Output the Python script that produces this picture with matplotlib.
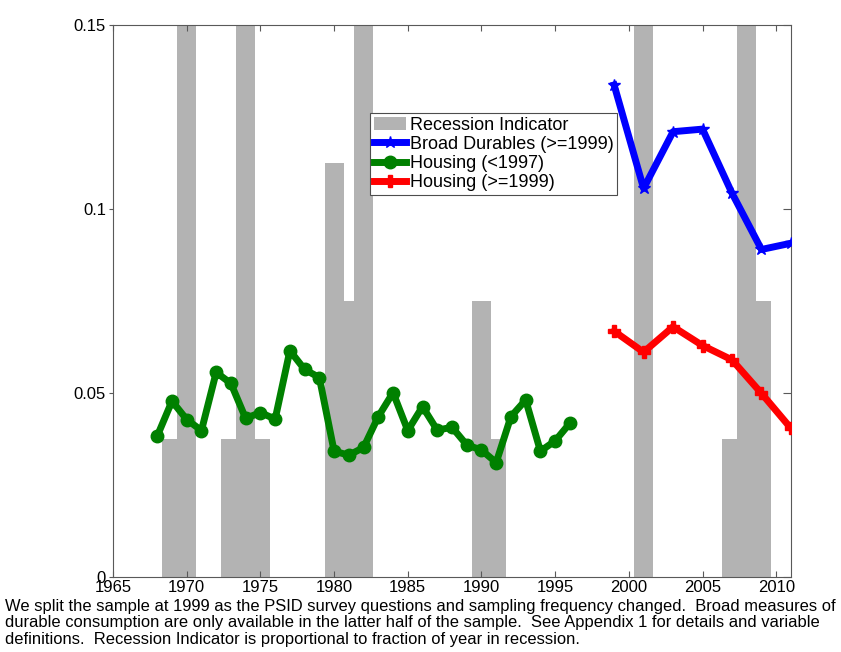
import numpy as np
import matplotlib
matplotlib.use("Agg")
import matplotlib.pyplot as plt

plt.rcParams['font.family'] = ['Liberation Sans', 'DejaVu Sans']

# recession indicator: fraction of year in recession (scaled to 0.15)
rec_years = [1969, 1970, 1973, 1974, 1975, 1980, 1981, 1982, 1990, 1991,
             2001, 2007, 2008, 2009]
rec_frac = [0.25, 1.0, 0.25, 1.0, 0.25, 0.75, 0.5, 1.0, 0.5, 0.25,
            1.0, 0.25, 1.0, 0.5]

# housing, early sample (annual)
house_early_years = list(range(1968, 1997))
house_early = [0.0383, 0.0478, 0.0428, 0.0398, 0.0556, 0.0526, 0.0431, 0.0447,
               0.0429, 0.0615, 0.0564, 0.0542, 0.0342, 0.0331, 0.0352, 0.0436,
               0.0501, 0.0398, 0.0463, 0.0399, 0.0407, 0.0359, 0.0345, 0.0311,
               0.0436, 0.0481, 0.0342, 0.0370, 0.0418]

# late sample (biennial)
late_years = [1999, 2001, 2003, 2005, 2007, 2009, 2011]
durables_late = [0.1337, 0.1056, 0.1210, 0.1217, 0.1043, 0.0890, 0.0907]
house_late = [0.0668, 0.0611, 0.0680, 0.0629, 0.0590, 0.0499, 0.0404]

caption = ("We split the sample at 1999 as the PSID survey questions and sampling frequency changed.  Broad measures of\n"
           "durable consumption are only available in the latter half of the sample.  See Appendix 1 for details and variable\n"
           "definitions.  Recession Indicator is proportional to fraction of year in recession.")

fig = plt.figure(figsize=(8.41, 6.52), dpi=100)
ax = fig.add_axes([0.1344, 0.115, 0.8061, 0.8467])

bars = ax.bar(rec_years, np.array(rec_frac) * 0.15, width=1.3, color='#b3b3b3',
              edgecolor='none', label='Recession Indicator', zorder=1)
l1, = ax.plot(late_years, durables_late, color='#0000ff', lw=5, marker='*',
              ms=9, label='Broad Durables (>=1999)', zorder=3)
l2, = ax.plot(house_early_years, house_early, color='#008000', lw=5, marker='o',
              ms=9, label='Housing (<1997)', zorder=3)
l3, = ax.plot(late_years, house_late, color='#ff0000', lw=5, marker='P',
              ms=9, label='Housing (>=1999)', zorder=3)

ax.set_xlim(1965, 2011)
ax.set_ylim(0, 0.15)
ax.set_xticks(range(1965, 2011, 5))
ax.set_yticks([0, 0.05, 0.1, 0.15])
ax.set_yticklabels(['0', '0.05', '0.1', '0.15'])

for s in ax.spines.values():
    s.set_color('0.35')
    s.set_linewidth(0.8)
ax.tick_params(axis='x', direction='in', top=True, length=4, color='0.35',
               labelsize=12, pad=2)
ax.tick_params(axis='y', direction='out', length=3, color='0.35',
               labelsize=12, pad=2)

# right-side ticks point inward
rt = ax.secondary_yaxis('right')
rt.set_yticks([0, 0.05, 0.1, 0.15])
rt.tick_params(direction='in', length=6, color='0.35', labelright=False)
rt.spines['right'].set_visible(False)

leg = ax.legend([bars, l1, l2, l3],
                ['Recession Indicator', 'Broad Durables (>=1999)',
                 'Housing (<1997)', 'Housing (>=1999)'],
                loc='upper left', bbox_to_anchor=(0.379, 0.8406), fontsize=13,
                frameon=True, fancybox=False, framealpha=1, edgecolor='0.3',
                handlelength=1.8, handletextpad=0.2, borderpad=0.2,
                labelspacing=0.12, borderaxespad=0)
leg.get_frame().set_linewidth(0.8)

fig.text(0.006, 0.081, caption, fontsize=11.9, va='top', ha='left',
         linespacing=1.1)

fig.savefig('out.png', dpi=100)
